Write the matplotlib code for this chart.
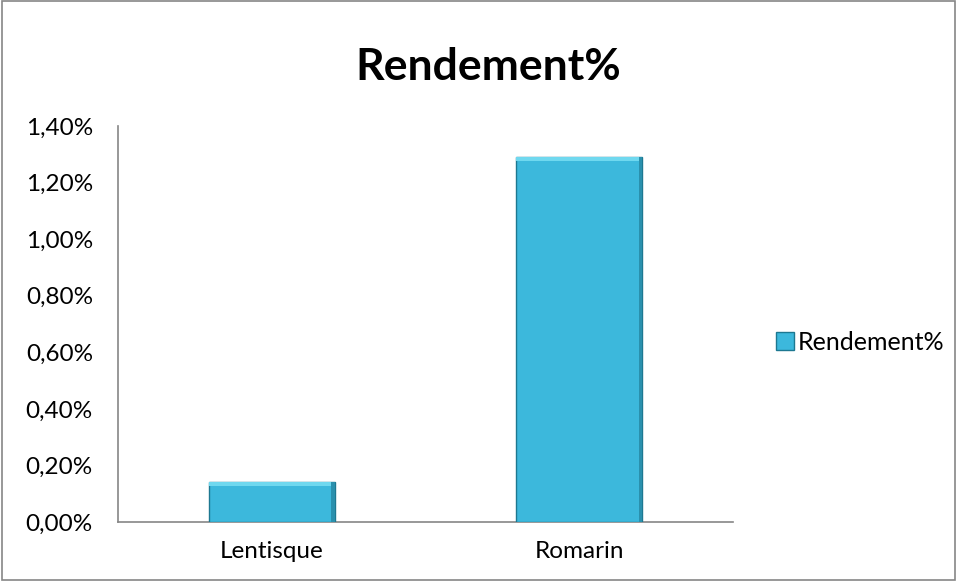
import matplotlib
matplotlib.use("Agg")
import matplotlib.pyplot as plt
from matplotlib.patches import Rectangle
from matplotlib.ticker import FuncFormatter

# Données
categories = ["Lentisque", "Romarin"]
rendement = [0.14, 1.29]  # en %
serie = "Rendement%"

plt.rcParams["font.family"] = ["Lato", "DejaVu Sans"]

fig = plt.figure(figsize=(9.57, 5.81), dpi=100)
ax = fig.add_axes([0.1233, 0.1015, 0.6427, 0.6815])

x = range(len(categories))
barres = ax.bar(x, rendement, width=0.41, color="#3cb8dc", edgecolor="#1d7891",
                linewidth=1.0, label=serie, zorder=3)

# petit effet de biseau sur le haut et les côtés des barres
for b in barres:
    h = b.get_height()
    ax.add_patch(Rectangle((b.get_x(), h - 0.012), b.get_width(), 0.012,
                           facecolor="#6fd8ef", edgecolor="none", zorder=4))
    ax.add_patch(Rectangle((b.get_x() + b.get_width() * 0.97, 0), b.get_width() * 0.03, h,
                           facecolor="#2a90ad", edgecolor="none", zorder=4))

ax.set_xlim(-0.5, 1.5)
ax.set_ylim(0, 1.4)
ax.set_yticks([0, 0.2, 0.4, 0.6, 0.8, 1.0, 1.2, 1.4])
ax.yaxis.set_major_formatter(FuncFormatter(lambda v, p: f"{v:.2f}%".replace(".", ",")))
ax.set_xticks(list(x))
ax.set_xticklabels(categories)

for s in ["top", "right"]:
    ax.spines[s].set_visible(False)
for s in ["left", "bottom"]:
    ax.spines[s].set_color("#868686")
    ax.spines[s].set_linewidth(1.2)
ax.tick_params(axis="both", length=0, labelsize=17.5, colors="black")
ax.tick_params(axis="y", pad=18)
ax.tick_params(axis="x", pad=14)

fig.text(0.51, 0.885, serie, ha="center", va="center", fontsize=32, fontweight="bold")

fig.legend(handles=[barres], labels=[serie], loc="center left",
           bbox_to_anchor=(0.811, 0.411), frameon=False, fontsize=18,
           handlelength=0.7, handleheight=0.7, handletextpad=0.15, borderpad=0,
           borderaxespad=0)

# cadre du graphique
fig.patches.append(Rectangle((0.002, 0.002), 0.996, 0.996, transform=fig.transFigure,
                             fill=False, edgecolor="#868686", linewidth=1.2))

fig.savefig("out.png", dpi=100)
